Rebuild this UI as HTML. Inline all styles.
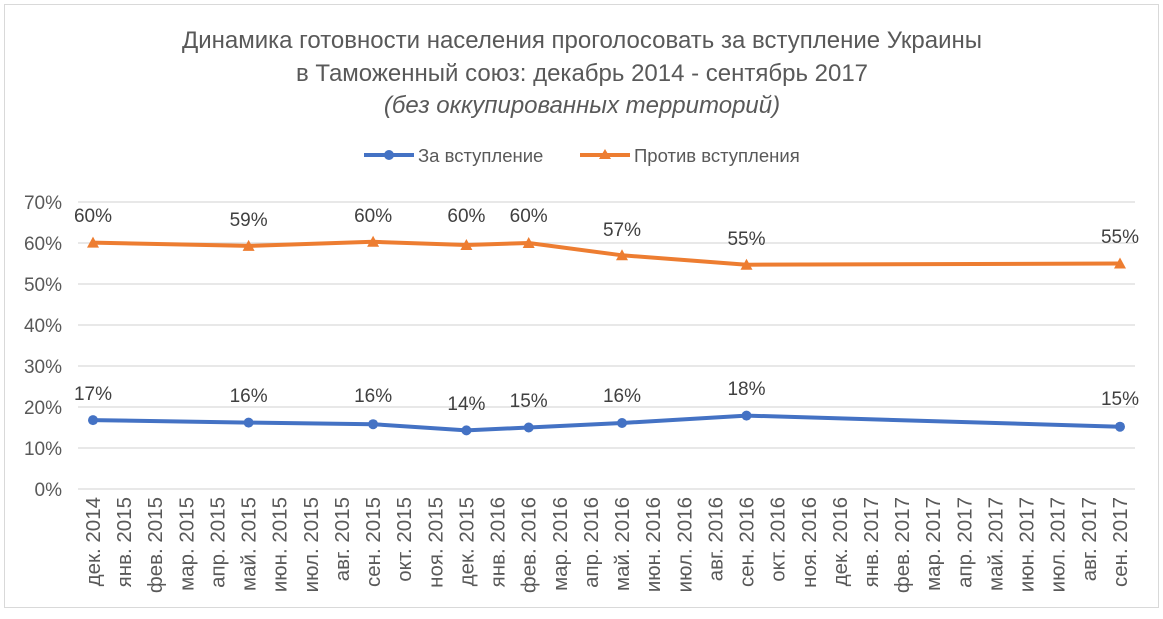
<!DOCTYPE html><html><head><meta charset="utf-8"><style>body{margin:0;background:#fff}svg{font-family:"Liberation Sans","DejaVu Sans",sans-serif}</style></head><body>
<svg width="1163" height="614" xmlns="http://www.w3.org/2000/svg">
<rect x="4.5" y="4.5" width="1154" height="603" fill="#fff" stroke="#d9d9d9"/>
<g font-size="24" fill="#595959" text-anchor="middle">
<text x="582" y="48">Динамика готовности населения проголосовать за вступление Украины</text>
<text x="582" y="81">в Таможенный союз: декабрь 2014 - сентябрь 2017</text>
<text x="582" y="113" font-style="italic">(без оккупированных территорий)</text>
</g>
<g font-size="18.5" fill="#595959">
<line x1="364" y1="155" x2="414" y2="155" stroke="#4472c4" stroke-width="4"/><circle cx="389" cy="155" r="5" fill="#4472c4"/>
<text x="418" y="162">За вступление</text>
<line x1="580" y1="155" x2="630" y2="155" stroke="#ed7d31" stroke-width="4"/><polygon points="605,149 611,159 599,159" fill="#ed7d31"/>
<text x="634" y="162">Против вступления</text>
</g>
<g stroke="#d9d9d9" stroke-width="1.2">
<line x1="78" x2="1135" y1="489" y2="489"/><line x1="78" x2="1135" y1="448" y2="448"/><line x1="78" x2="1135" y1="407" y2="407"/><line x1="78" x2="1135" y1="366" y2="366"/><line x1="78" x2="1135" y1="325" y2="325"/><line x1="78" x2="1135" y1="284" y2="284"/><line x1="78" x2="1135" y1="243" y2="243"/><line x1="78" x2="1135" y1="202" y2="202"/>
</g>
<g font-size="19" fill="#595959" text-anchor="end">
<text x="62" y="496">0%</text><text x="62" y="455">10%</text><text x="62" y="414">20%</text><text x="62" y="373">30%</text><text x="62" y="332">40%</text><text x="62" y="291">50%</text><text x="62" y="250">60%</text><text x="62" y="209">70%</text>
</g>
<g font-size="20.5" fill="#595959" text-anchor="end">
<text transform="translate(100,497) rotate(-90)">дек. 2014</text>
<text transform="translate(131.1,497) rotate(-90)">янв. 2015</text>
<text transform="translate(162.2,497) rotate(-90)">фев. 2015</text>
<text transform="translate(193.4,497) rotate(-90)">мар. 2015</text>
<text transform="translate(224.5,497) rotate(-90)">апр. 2015</text>
<text transform="translate(255.6,497) rotate(-90)">май. 2015</text>
<text transform="translate(286.7,497) rotate(-90)">июн. 2015</text>
<text transform="translate(317.8,497) rotate(-90)">июл. 2015</text>
<text transform="translate(349,497) rotate(-90)">авг. 2015</text>
<text transform="translate(380.1,497) rotate(-90)">сен. 2015</text>
<text transform="translate(411.2,497) rotate(-90)">окт. 2015</text>
<text transform="translate(442.3,497) rotate(-90)">ноя. 2015</text>
<text transform="translate(473.4,497) rotate(-90)">дек. 2015</text>
<text transform="translate(504.6,497) rotate(-90)">янв. 2016</text>
<text transform="translate(535.7,497) rotate(-90)">фев. 2016</text>
<text transform="translate(566.8,497) rotate(-90)">мар. 2016</text>
<text transform="translate(597.9,497) rotate(-90)">апр. 2016</text>
<text transform="translate(629,497) rotate(-90)">май. 2016</text>
<text transform="translate(660.2,497) rotate(-90)">июн. 2016</text>
<text transform="translate(691.3,497) rotate(-90)">июл. 2016</text>
<text transform="translate(722.4,497) rotate(-90)">авг. 2016</text>
<text transform="translate(753.5,497) rotate(-90)">сен. 2016</text>
<text transform="translate(784.6,497) rotate(-90)">окт. 2016</text>
<text transform="translate(815.8,497) rotate(-90)">ноя. 2016</text>
<text transform="translate(846.9,497) rotate(-90)">дек. 2016</text>
<text transform="translate(878,497) rotate(-90)">янв. 2017</text>
<text transform="translate(909.1,497) rotate(-90)">фев. 2017</text>
<text transform="translate(940.2,497) rotate(-90)">мар. 2017</text>
<text transform="translate(971.4,497) rotate(-90)">апр. 2017</text>
<text transform="translate(1002.5,497) rotate(-90)">май. 2017</text>
<text transform="translate(1033.6,497) rotate(-90)">июн. 2017</text>
<text transform="translate(1064.7,497) rotate(-90)">июл. 2017</text>
<text transform="translate(1095.8,497) rotate(-90)">авг. 2017</text>
<text transform="translate(1127,497) rotate(-90)">сен. 2017</text>
</g>
<polyline points="93,242.6 248.6,245.9 373.1,241.8 466.4,245 528.7,243 622,255.3 746.5,264.7 1120,263.5" fill="none" stroke="#ed7d31" stroke-width="4" stroke-linejoin="round"/>
<polyline points="93,420.1 248.6,422.6 373.1,424.2 466.4,430.4 528.7,427.5 622,423 746.5,415.6 1120,426.7" fill="none" stroke="#4472c4" stroke-width="4" stroke-linejoin="round"/>
<g fill="#ed7d31">
<polygon points="93,236.6 99,247.6 87,247.6"/><polygon points="248.6,239.9 254.6,250.9 242.6,250.9"/><polygon points="373.1,235.8 379.1,246.8 367.1,246.8"/><polygon points="466.4,239 472.4,250 460.4,250"/><polygon points="528.7,237 534.7,248 522.7,248"/><polygon points="622,249.3 628,260.3 616,260.3"/><polygon points="746.5,258.7 752.5,269.7 740.5,269.7"/><polygon points="1120,257.5 1126,268.5 1114,268.5"/>
</g>
<g fill="#4472c4">
<circle cx="93" cy="420.1" r="5"/><circle cx="248.6" cy="422.6" r="5"/><circle cx="373.1" cy="424.2" r="5"/><circle cx="466.4" cy="430.4" r="5"/><circle cx="528.7" cy="427.5" r="5"/><circle cx="622" cy="423" r="5"/><circle cx="746.5" cy="415.6" r="5"/><circle cx="1120" cy="426.7" r="5"/>
</g>
<g font-size="19" fill="#404040" text-anchor="middle">
<text x="93" y="222">60%</text><text x="248.6" y="226">59%</text><text x="373.1" y="222">60%</text><text x="466.4" y="222">60%</text><text x="528.7" y="222">60%</text><text x="622" y="236">57%</text><text x="746.5" y="245">55%</text><text x="1120" y="243">55%</text>
<text x="93" y="400">17%</text><text x="248.6" y="402">16%</text><text x="373.1" y="402">16%</text><text x="466.4" y="410">14%</text><text x="528.7" y="407">15%</text><text x="622" y="402">16%</text><text x="746.5" y="395">18%</text><text x="1120" y="405">15%</text>
</g>
</svg></body></html>
